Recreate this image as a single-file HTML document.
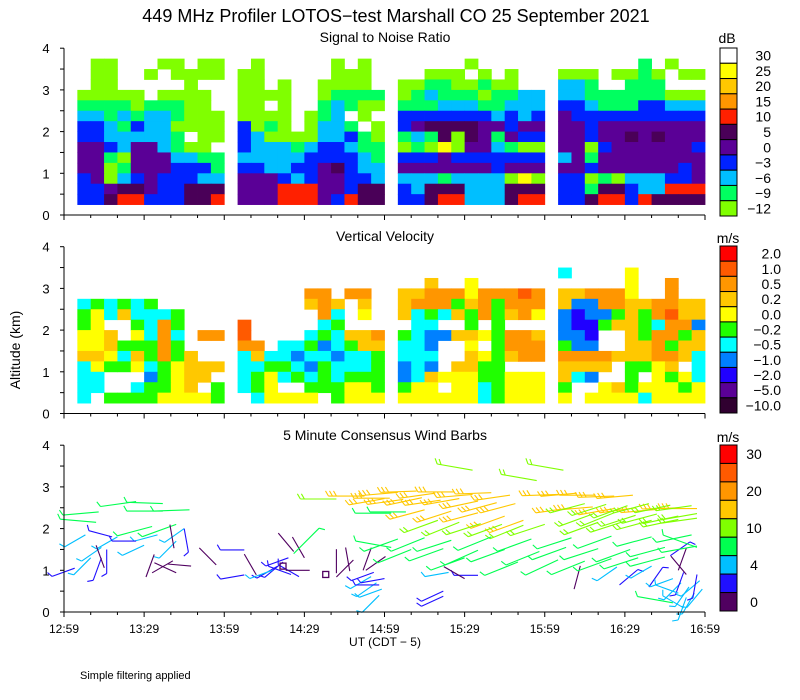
<!DOCTYPE html>
<html><head><meta charset="utf-8"><style>
html,body{margin:0;padding:0;background:#fff;}
svg{display:block;font-family:"Liberation Sans",sans-serif;}
</style></head><body>
<svg id="chart" width="800" height="700" viewBox="0 0 800 700" xmlns="http://www.w3.org/2000/svg">
<rect x="0" y="0" width="800" height="700" fill="#fff"/>
<text x="396" y="22" font-size="18" text-anchor="middle">449 MHz Profiler LOTOS−test Marshall CO 25 September 2021</text>
<text x="385" y="42" font-size="14" text-anchor="middle">Signal to Noise Ratio</text>
<text x="385" y="241" font-size="14" text-anchor="middle">Vertical Velocity</text>
<text x="385" y="440" font-size="14" text-anchor="middle">5 Minute Consensus Wind Barbs</text>
<text x="20" y="350" font-size="14" text-anchor="middle" transform="rotate(-90 20 350)">Altitude (km)</text>
<text x="385" y="646" font-size="12" text-anchor="middle">UT  (CDT − 5)</text>
<text x="80" y="679" font-size="11">Simple filtering applied</text>
<text x="727" y="43" font-size="14" text-anchor="middle">dB</text>
<text x="728" y="243" font-size="14" text-anchor="middle">m/s</text>
<text x="728" y="442" font-size="14" text-anchor="middle">m/s</text>
<g id="layer"></g>
</svg>
<script>
// ---- data ----
const xTickLabels = ["12:59","13:29","13:59","14:29","14:59","15:29","15:59","16:29","16:59"];
const yTickLabels = ["0","1","2","3","4"];
const snrLabels = ["30","25","20","15","10","5","0","−3","−6","−9","−12"];
const snrColors = ["#ffffff","#ffff00","#ffc800","#ff9600","#ff2000","#4a0058","#5a0096","#0022ff","#00bfff","#00ff60","#80ff00"];
const vvLabels = ["2.0","1.0","0.5","0.2","0.0","−0.2","−0.5","−1.0","−2.0","−5.0","−10.0"];
const vvColors = ["#ff0000","#ff5a00","#ff9600","#ffc800","#ffff00","#20ff00","#00ffff","#0080ff","#2000ff","#5a0096","#300030"];
const windLabels = ["30","","20","","10","","4","","0"];
const windColors = ["#ff0000","#ff5a00","#ff9600","#ffc800","#80ff00","#00ff50","#00bfff","#2010ff","#500060"];
const windBounds = [30,25,20,15,10,7,4,2,0];
// SNR grids per hourly segment: rows top (3.75-4.0 km) to bottom (0.25-0.5 km); 11 five-minute columns
const snrSeg1 = ["...........",".00...00.00",".00..0.0000",".00.....0..","00000.0000.","1111011100.","22121221000","33213220000","33222221.00","4432442100.","44104442211","44014443331","34023433322","33455433555","33566333556"];
const snrSeg2 = ["...........",".0.....0.0.","00.....000.","00.0..0000.","0000..01111","00.0..12100","0000.012.0.","3010.0221.0","32000022310","32221233211","22222333321","33223345322","44432344332","44466644355","44466643655"];
const snrSeg3 = ["...........",".....0.....","..000.0.0..","001100100..","01211101122","11122211222","33333332323","34555544344","12150541433","01090442100","33343333333","44444443444","22212222090","32555222555","33566222566"];
const snrSeg4 = ["...........","......1.0..","000.0010.00","221..111...","22111111000","33211133222","43333333333","44344444444","44344545444","44034444443","24144444444","44344444434","33010222334","33155322666","33566365555"];
const snrMap = {"0":10,"1":9,"2":8,"3":7,"4":6,"5":5,"6":4,"7":3,"8":2,"9":1};
// Vertical velocity grids per segment
const vvSeg1 = ["...........","...........","...........","...........","...........","cGcGcG.....","GycgcccG...","Gy..GcoG...","yyg.ycoc.oo","yygGGGoG...","ggycgGoGg..","cyGGycGyggg","cc...aGygg.","cc..cGGyg.G","c.GGGGyyyyG"];
const vvSeg2 = ["...........","...........","...........","...........",".....oo.oo.",".....gog.g.","......oc.y.","O.....cG...","O....cGcggo","oo.ccGacGgg","cgccaccaccG","ccGGcaGcccG","cGycGcGcGGG","cGy..GGGyyG",".cyyyy.Gyyy"];
const vvSeg3 = ["...........","...........","...........","..g..y.....","ggoooyoooOo","goooGgoGooo","gcGcgGoGgoy",".cc..G.G...","GcaaggyGoog","cca..y.Gooo","ccc..gyGgoo","aca.ggGG...","acgyyyGGyyy","Gyy.yycGyyy","yyyyyycGyyy"];
const vvSeg4 = ["...........","...........","c....y.....",".....y..o..","ggoooy..o..","gaaooggoogg","abaaGgGoOgg","abbGggGcooa","aab..gGooGg","Gaa..ggoGgg","oooogggoogc","gggg.GGyg.c","gca..G.yGyc","G..ygGyyyGy","y.yyyycyyyy"];
const vvMap = {"R":0,"O":1,"o":2,"g":3,"y":4,"G":5,"c":6,"a":7,"b":8,"p":9,"k":10};
// Wind barbs: time (min after 12:59), altitude (km), speed (m/s), direction (deg from)
const barbTime = [13,12,27,37,37,47,42,33,8,14,20,10,30,45,42,35,4,16,18,27,14,45,12,41.2,30.7,47.6,42,33,57,72,67.5,67.5,80,82,84,78,85,88,86,90,92,86,82,98,102,107,102,112,113,115,117,119,118,116,120,118,102,112.5,122,122.5,122.5,
153,187,177,142,142,144,155,150,191,208,207,219,227,220,230,233,228,231,234,236,233,238,239,232,237,230,228,232,237,
125,132,139,146,153,160,167,120,127,134,141,148,155,162,169,135,145,155,165,172,185,192,199,206,213,190,198,206,214,222,230,237,
140,148,156,164,172,180,195,203,211,219,227,235,198,206,214,222,230,237,200,210,220,230,237,
125,135,145,160,175,190,205,220,235,130,142,155,165,178,188,200,212,225,237,185,195,205,215,225,128,150,170];
const barbAlt = [2.4,2.15,2.65,2.6,2.42,2.45,2.1,2.05,1.85,1.55,1.8,1.3,1.6,2.0,1.7,1.85,1.05,1.5,1.8,1.7,1.3,2.0,1.6,1.53,0.84,1.1,0.94,0.94,1.13,0.89,1.49,0.89,1.1,1.2,1.3,1.0,0.9,0.85,1.45,1.3,1.0,1.4,1.1,0.9,0.93,0.98,0.84,1.0,1.0,0.85,0.7,0.55,0.4,0.95,0.8,0.65,2.71,2.78,2.73,2.37,1.55,
3.4,3.4,3.15,0.5,0.38,0.95,0.88,0.8,0.55,0.65,1.08,0.6,1.35,1.1,1.0,0.9,0.8,0.7,0.6,0.45,0.35,0.75,0.55,0.95,0.9,0.45,0.22,0.1,1.55,
2.87,2.9,2.85,2.88,2.82,2.86,2.8,2.72,2.7,2.74,2.68,2.72,2.66,2.62,2.6,2.45,2.42,2.38,2.3,2.2,2.82,2.85,2.8,2.78,2.8,2.5,2.52,2.48,2.5,2.46,2.5,2.48,
2.2,2.15,2.12,2.1,2.08,2.1,2.6,2.58,2.55,2.6,2.56,2.55,2.35,2.38,2.32,2.35,2.3,2.36,2.15,2.18,2.2,2.22,2.25,
1.75,1.78,1.72,1.8,1.75,1.78,1.82,1.8,1.85,1.5,1.52,1.48,1.5,1.45,1.55,1.52,1.5,1.55,1.58,1.25,1.22,1.28,1.3,1.32,2.4,1.3,1.2];
const barbSpeed = [9,8,9,8,9,9,9,8,5,5,5,5,5,5,5,5,3,3,3,3,3,3,1,1,1,1,1,1,1,1,3,3,3,3,3,5,3,3,1,1,1,9,0,0,1,1,1,1,1,5,5,5,5,3,3,3,11,16,16,9,8,
12,12,12,3,3,5,3,1,1,3,5,3,3,5,1,1,5,5,5,5,5,5,5,3,3,5,8,5,8,
17,17,18,17,16,17,17,16,17,18,17,17,16,16,17,17,18,17,16,17,17,16,17,17,16,17,16,17,17,16,17,16,
12,12,13,12,12,11,12,12,13,12,12,11,12,13,12,12,12,11,11,12,12,11,12,
8,9,8,9,8,9,9,8,8,8,9,8,8,9,8,9,8,8,9,8,8,9,8,8,8,9,8];
const barbDir = [265,275,262,272,270,268,250,255,240,235,240,225,245,235,225,255,250,180,285,270,200,170,160,350,20,275,295,60,315,330,270,260,240,230,250,250,290,300,320,330,270,45,0,0,0,350,45,20,55,240,235,250,225,250,260,270,270,270,270,270,280,
280,280,280,245,245,260,270,300,15,50,235,35,55,240,20,320,250,225,215,210,200,230,220,200,190,290,280,300,290,
265,268,262,270,265,268,262,260,262,258,262,260,258,255,255,255,252,255,250,250,268,265,270,268,265,262,265,260,262,265,268,270,
250,248,252,250,248,252,255,252,250,255,258,262,250,248,252,255,258,260,250,252,255,258,262,
250,248,252,248,250,252,250,255,258,248,250,246,250,248,250,252,250,255,260,245,248,250,252,255,270,250,248];

// ---- scales ----
const X0 = 64, X1 = 705;
const panelBottom = [215, 413.5, 612];
const KM = 41.7;
function xScale(t){ return X0 + (t/240)*(X1-X0); }
function yScale(p, alt){ return panelBottom[p] - alt*KM; }

const NS = "http://www.w3.org/2000/svg";
const layer = document.getElementById("layer");
function mk(tag, attrs, parent){
  const e = document.createElementNS(NS, tag);
  for (const k in attrs) e.setAttribute(k, attrs[k]);
  (parent||layer).appendChild(e);
  return e;
}

// ---- heatmaps ----
function drawGrid(p, segs, map, colors, name){
  const g = mk("g", {});
  
  
  segs.forEach((rows, s) => {
    rows.forEach((row, r) => {
      const altTop = 4 - r*0.25, altBot = altTop - 0.25;
      for (let k = 0; k < row.length; k++){
        const ch = row[k];
        if (!(ch in map)) continue;
        const t0 = s*60 + 5 + k*5;
        const x0 = xScale(t0), x1 = xScale(t0+5);
        const y0 = yScale(p, altTop), y1 = yScale(p, altBot);
        const rc = mk("rect", {x:x0.toFixed(2), y:y0.toFixed(2), width:(x1-x0+0.4).toFixed(2), height:(y1-y0+0.4).toFixed(2), fill:colors[map[ch]]}, g);
        
        
      }
    });
  });
}
drawGrid(0, [snrSeg1, snrSeg2, snrSeg3, snrSeg4], snrMap, snrColors, "snr-heatmap");
drawGrid(1, [vvSeg1, vvSeg2, vvSeg3, vvSeg4], vvMap, vvColors, "velocity-heatmap");

// ---- wind barbs ----
function windColor(s){
  for (let i = 0; i < windBounds.length; i++) if (s >= windBounds[i]) return windColors[i];
  return windColors[windColors.length-1];
}
const barbG = mk("g", {});


for (let i = 0; i < barbTime.length; i++){
  const bx = xScale(barbTime[i]), by = yScale(2, barbAlt[i]);
  const s = barbSpeed[i], col = windColor(s);
  if (s < 0.5){
    const sq = mk("rect", {x:bx-3, y:by-3, width:6, height:6, fill:"none", stroke:col, "stroke-width":1.3}, barbG);
    
    
    continue;
  }
  const L = s >= 7 ? 36 : 24, a = barbDir[i]*Math.PI/180;
  const ex = bx + Math.sin(a)*L, ey = by - Math.cos(a)*L;
  const st = mk("line", {x1:bx.toFixed(1), y1:by.toFixed(1), x2:ex.toFixed(1), y2:ey.toFixed(1), stroke:col, "stroke-width":1.1}, barbG);
  
  
  const n = s >= 2 ? Math.max(1, Math.floor(s/5)) : 0;
  const ang = Math.atan2(ey-by, ex-bx), sa = ang + Math.PI/3;
  for (let k = 0; k < n; k++){
    const px = ex - Math.cos(ang)*k*4, py = ey - Math.sin(ang)*k*4;
    const tk = mk("line", {x1:px.toFixed(1), y1:py.toFixed(1), x2:(px+Math.cos(sa)*6).toFixed(1), y2:(py+Math.sin(sa)*6).toFixed(1), stroke:col, "stroke-width":1.1}, barbG);
    
    
  }
}

// ---- axes ----
for (let p = 0; p < 3; p++){
  const yb = panelBottom[p], yt = yb - 4*KM;
  const ax = mk("path", {d:`M${X0},${yt} V${yb} H${X1}`, fill:"none", stroke:"#000", "stroke-width":1});
  
  
  for (let k = 0; k <= 8; k++){
    const y = yb - k*0.5*KM;
    const tk = mk("line", {x1:X0-4, y1:y, x2:X0, y2:y, stroke:"#000"});
    
    
  }
  yTickLabels.forEach((lab, k) => {
    const t = mk("text", {x:46, y:(yb - k*KM + 5).toFixed(1), "font-size":13, "text-anchor":"middle"});
    t.textContent = lab;
    
    
  });
  for (let m = 0; m <= 24; m++){
    const x = xScale(m*10), major = m%3 === 0;
    const tk = mk("line", {x1:x, y1:yb, x2:x, y2:yb + (major?5:3), stroke:"#000"});
    
    
  }
}
xTickLabels.forEach((lab, k) => {
  const t = mk("text", {x:xScale(k*30), y:633, "font-size":12, "text-anchor":"middle"});
  t.textContent = lab;
  
  
});

// ---- colorbars ----
function colorbar(top, bottom, colors, labels, lx, anchor, name){
  const g = mk("g", {});
  
  
  const h = (bottom-top)/colors.length;
  colors.forEach((c, i) => {
    const r = mk("rect", {x:720, y:(top+i*h).toFixed(2), width:17, height:h.toFixed(2), fill:c, stroke:"#000", "stroke-width":1}, g);
    
    
    if (labels[i]){
      const t = mk("text", {x:lx, y:(top+i*h+h/2+5).toFixed(1), "font-size":14, "text-anchor":anchor}, g);
      t.textContent = labels[i];
      
      
    }
  });
}
colorbar(48, 216, snrColors, snrLabels, 771, "end", "snr-colorbar");
colorbar(246, 413, vvColors, vvLabels, 781, "end", "velocity-colorbar");
colorbar(445, 611, windColors, windLabels, 754, "middle", "wind-colorbar");
</script>
</body></html>
